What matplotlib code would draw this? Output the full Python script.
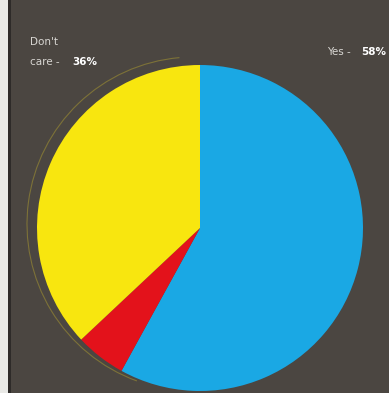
import matplotlib
matplotlib.use("Agg")
import matplotlib.pyplot as plt
from matplotlib.patches import Rectangle, Arc

labels = ["Yes", "No", "Don't care"]
values = [58, 5, 37]
colors = ["#1aa8e4", "#e3121b", "#f8e60f"]

W, H = 389, 393
fig = plt.figure(figsize=(W / 100, H / 100), dpi=100)
fig.patch.set_facecolor("#4b4641")
ax = fig.add_axes([0, 0, 1, 1])
ax.set_facecolor("#4b4641")

# left page edge
ax.add_patch(Rectangle((0, 0), 8, H, facecolor="#e9e9e6", edgecolor="none", zorder=1))
ax.add_patch(Rectangle((8, 0), 3, H, facecolor="#2e2b29", edgecolor="none", zorder=1))

cx, cy, r = 200, 165, 163

# faint outline on the left of the pie
ax.add_patch(Arc((cx - 6, cy + 4), 2 * r + 8, 2 * r + 8, theta1=95, theta2=250,
                 edgecolor="#7d7238", linewidth=0.8, zorder=2))

ax.pie(values, colors=colors, startangle=90, counterclock=False,
       center=(cx, cy), radius=r, frame=True,
       wedgeprops=dict(linewidth=0, edgecolor="none", zorder=3))
ax.set_xlim(0, W)
ax.set_ylim(0, H)
ax.set_aspect("auto")
ax.axis("off")

fs = 7.5
ax.text(30, 351, "Don't", color="#d8d6d2", fontsize=fs, ha="left", va="center", zorder=5)
ax.text(30, 331, "care -", color="#d8d6d2", fontsize=fs, ha="left", va="center", zorder=5)
ax.text(72, 331, "36%", color="#ffffff", fontsize=fs, fontweight="bold",
        ha="left", va="center", zorder=5)
ax.text(327, 341, "Yes -", color="#d8d6d2", fontsize=fs, ha="left", va="center", zorder=5)
ax.text(361, 341, "58%", color="#ffffff", fontsize=fs, fontweight="bold",
        ha="left", va="center", zorder=5)

fig.savefig("out.png", dpi=100, facecolor=fig.get_facecolor())
